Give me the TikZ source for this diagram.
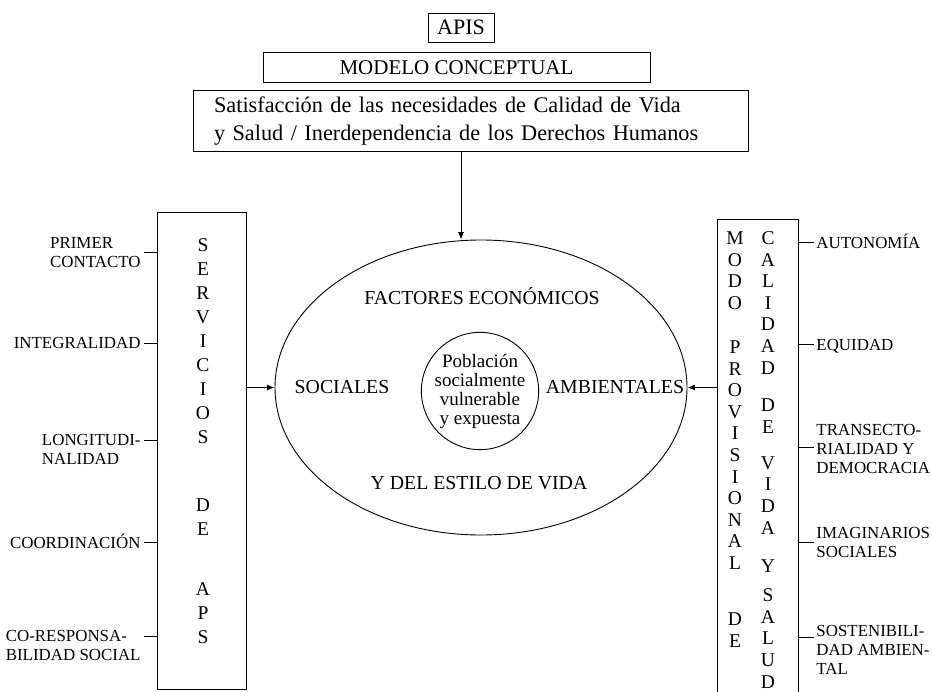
\documentclass[tikz,border=0pt]{standalone}
\usepackage{fontspec}
\setmainfont{Liberation Serif}
\usetikzlibrary{positioning,arrows.meta,shapes.geometric}
\tikzset{
		basic/.style    = {draw, line width=0.9pt, rectangle, inner sep=0pt},
		headbox/.style  = {basic, font=\fontsize{21}{24}\selectfont},
		colbox/.style   = {basic, minimum width=89pt, minimum height=477pt},
		letters/.style  = {align=center, inner sep=0pt, anchor=base, font=\fontsize{19.5}{24}\selectfont},
		rletters/.style = {letters, font=\fontsize{19.5}{21.6}\selectfont},
		factor/.style   = {inner sep=0pt, anchor=base, font=\fontsize{19.8}{22}\selectfont},
		leftlab/.style  = {align=left, inner sep=0pt, anchor=base east, font=\fontsize{16.9}{19.3}\selectfont},
		rightlab/.style = {leftlab, anchor=base west}
	}
\begin{document}
\begin{tikzpicture}[x=1pt, y=-1pt, >={Latex[length=7.5pt,width=6pt]}, line width=0.9pt]
		\useasboundingbox (0,0) rectangle (932,691);
		\clip (0,0) rectangle (932,691);
		% title boxes on top
		\node[headbox, minimum width=66pt, minimum height=29pt, font=\fontsize{22}{24}\selectfont] (apis) at (461,27.5) {APIS};
		\node[headbox, minimum width=387pt, minimum height=30pt, below=10pt of apis, xshift=-4.5pt] (modelo) {MODELO CONCEPTUAL};
		\node[headbox, minimum width=555pt, minimum height=61pt, text width=513pt, inner xsep=21pt, align=left,
			font=\fontsize{22.3}{28}\selectfont, below=7pt of modelo, xshift=14pt] (satis)
			{Satisfacción de las necesidades de Calidad de Vida\\y Salud / Inerdependencia de los Derechos Humanos};
		% the ellipse with the factors
		\node[draw, ellipse, minimum width=412pt, minimum height=295pt, inner sep=0pt] (elli) at (481,387.5) {};
		\node[draw, circle, minimum size=110pt, inner sep=0pt, align=center, font=\fontsize{19}{19}\selectfont] (pob) at (480,391)
			{Población\\socialmente\\vulnerable\\y expuesta};
		\node[factor] (econ) at (482,304.6) {FACTORES ECONÓMICOS};
		\node[factor] (soc)  at (342,393.6) {SOCIALES};
		\node[factor] (amb)  at (615,393.6) {AMBIENTALES};
		\node[factor] (vida) at (479,489.6) {Y DEL ESTILO DE VIDA};
		% left column (base = last line)
		\node[colbox] (serv) at (201.5,450.5) {};
		\node[letters] (serv1) at (203,443.5) {S\\E\\R\\V\\I\\C\\I\\O\\S};
		\node[letters] (serv2) at (203,535.5) {D\\E};
		\node[letters] (serv3) at (203,643.5) {A\\P\\S};
		% right column, open at the bottom
		\node[colbox, minimum width=81pt, minimum height=480pt] (modo) at (757.5,459) {};
		\node[rletters] (modo1) at (735,309.3) {M\\O\\D\\O};
		\node[rletters] (modo2) at (735,569.5) {P\\R\\O\\V\\I\\S\\I\\O\\N\\A\\L};
		\node[rletters] (modo3) at (735,647.5) {D\\E};
		\node[rletters] (cal1) at (768,374) {C\\A\\L\\I\\D\\A\\D};
		\node[rletters] (cal2) at (768,433) {D\\E};
		\node[rletters] (cal3) at (768,534) {V\\I\\D\\A};
		\node[rletters] (cal4) at (768,572.5) {Y};
		\node[rletters] (cal5) at (768,688) {S\\A\\L\\U\\D};
		% labels
		\node[leftlab] (l1) at (141,267.6) {PRIMER\\CONTACTO};
		\node[leftlab] (l2) at (141,348.6) {INTEGRALIDAD};
		\node[leftlab] (l3) at (141,464.6) {LONGITUDI-\\NALIDAD};
		\node[leftlab] (l4) at (141,548.6) {COORDINACIÓN};
		\node[leftlab] (l5) at (141,660.6) {CO-RESPONSA-\\BILIDAD SOCIAL};
		\node[rightlab] (r1) at (816,248) {AUTONOMÍA};
		\node[rightlab] (r2) at (816,350) {EQUIDAD};
		\node[rightlab] (r3) at (816,473.6) {TRANSECTO-\\RIALIDAD Y\\DEMOCRACIA};
		\node[rightlab] (r4) at (816,557.6) {IMAGINARIOS\\SOCIALES};
		\node[rightlab] (r5) at (816,674.6) {SOSTENIBILI-\\DAD AMBIEN-\\TAL};
		% arrows
		\draw[->] (satis.south -| apis.south) -- (elli.north -| apis.south);
		\draw[->, line width=1.4pt] (serv.east |- elli.west) -- (elli.west);
		\draw[->, line width=1.4pt] (modo.west |- elli.east) -- (elli.east);
		\foreach \lab/\yy in {l1/252, l2/343, l3/440, l4/542, l5/636}
		\draw[shorten >=3pt] (serv.west |- 0,\yy) -- (\lab.east |- 0,\yy);
		\foreach \lab/\yy in {r1/242, r2/344, r3/447, r4/542, r5/637}
		\draw[shorten >=2pt] (modo.east |- 0,\yy) -- (\lab.west |- 0,\yy);
	\end{tikzpicture}
\end{document}
